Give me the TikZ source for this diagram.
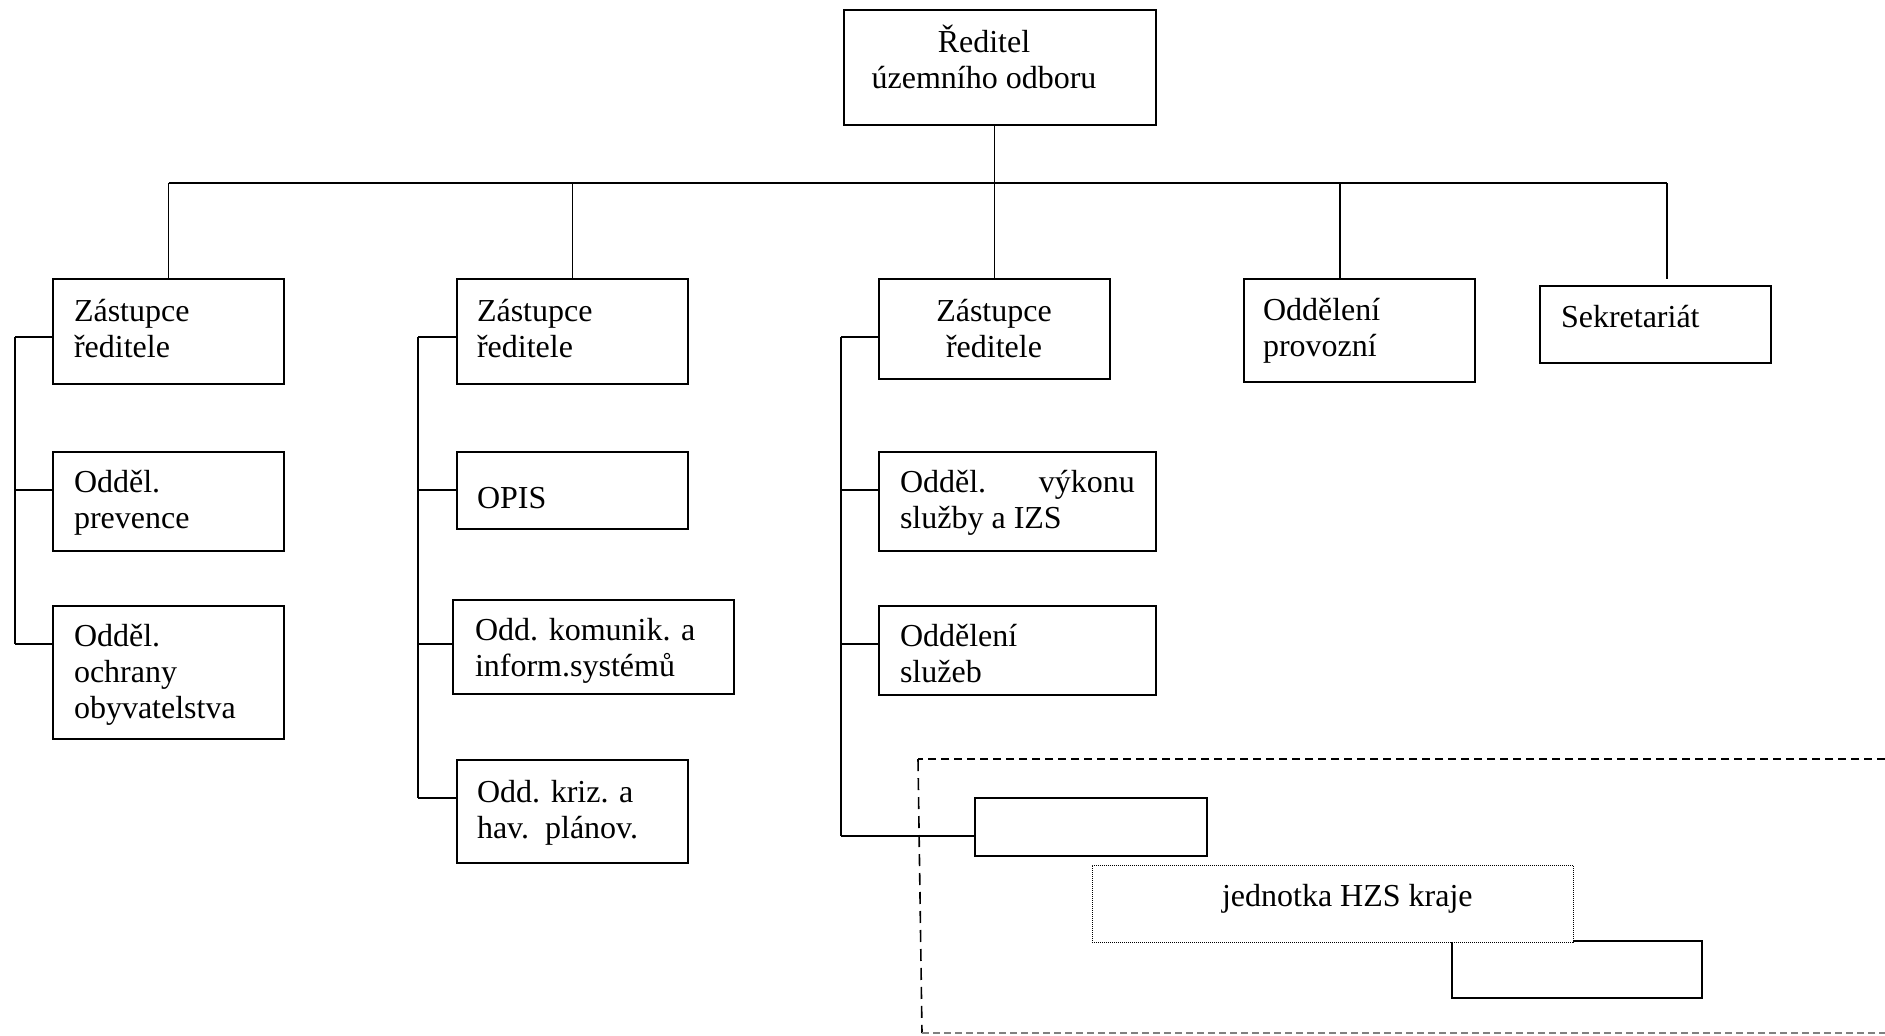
\documentclass[tikz,border=0pt]{standalone}
\usepackage{fontspec}
\setmainfont{Liberation Serif}
\usetikzlibrary{fit}
\newcommand\mystr{\rule[-4pt]{0pt}{18pt}}
\begin{document}
\begin{tikzpicture}[x=0.5pt,y=-0.5pt,
  box/.style={draw, line width=0.65pt, inner sep=0pt, outer sep=0pt},
  txt/.style={anchor=north west, inner sep=0pt, outer sep=0pt, align=left, font=\fontsize{16}{18}\selectfont},
  ctxt/.style={txt, anchor=north, align=center},
  conn/.style={line width=0.65pt}]
\useasboundingbox (0,0) rectangle (1885,1035);

% dashed enclosure
\coordinate (dTR) at (1885,759);
\coordinate (dTL) at (918,759);
\coordinate (dBL) at (922,1033);
\coordinate (dBR) at (1885,1033);
\draw[line width=0.8pt, dash pattern=on 4pt off 2.5pt] (dTR) -- (dTL);
\draw[line width=0.8pt, dash pattern=on 6pt off 3.5pt] (dTL) -- (dBL);
\draw[gray, line width=0.6pt, dash pattern=on 3.5pt off 2pt] (dBL) -- (dBR);

% boxes
\node[box, fit={(844,10) (1156,125)}] (top) {};
\node[box, fit={(53,279) (284,384)}] (z1) {};
\node[box, fit={(53,452) (284,551)}] (prev) {};
\node[box, fit={(53,606) (284,739)}] (ochr) {};
\node[box, fit={(457,279) (688,384)}] (z2) {};
\node[box, fit={(457,452) (688,529)}] (opis) {};
\node[box, fit={(453,600) (734,694)}] (kom) {};
\node[box, fit={(457,760) (688,863)}] (kriz) {};
\node[box, fit={(879,279) (1110,379)}] (z3) {};
\node[box, fit={(879,452) (1156,551)}] (vyk) {};
\node[box, fit={(879,606) (1156,695)}] (sluz) {};
\node[box, fit={(1244,279) (1475,382)}] (prov) {};
\node[box, fit={(1540,286) (1771,363)}] (sekr) {};
\node[box, fit={(975,798) (1207,856)}] (e1) {};
\node[box, line width=0.8pt, fit={(1452,941) (1702,998)}] (e2) {};
\node[draw, fill=white, dash pattern=on 0.5pt off 0.5pt, line width=0.5pt, inner sep=0pt, outer sep=0pt, fit={(1092,865) (1573,942)}] (jed) {};

% texts
\node[ctxt] (ttop) at (984,24) {\mystr Ředitel\\\mystr územního odboru};
\node[txt] (tz1) at (74,293) {\mystr Zástupce\\\mystr ředitele};
\node[txt] (tprev) at (74,464) {\mystr Odděl.\\\mystr prevence};
\node[txt] (tochr) at (74,618) {\mystr Odděl.\\\mystr ochrany\\\mystr obyvatelstva};
\node[txt] (tz2) at (477,293) {\mystr Zástupce\\\mystr ředitele};
\node[txt] (topis) at (477,480) {\mystr OPIS};
\node[txt] (tkom) at (475,612) {\mystr Odd. komunik. a\\\mystr inform.systémů};
\node[txt] (tkriz) at (477,774) {\mystr Odd. kriz. a\\\mystr hav.\ \ plánov.};
\node[ctxt] (tz3) at (994,293) {\mystr Zástupce\\\mystr ředitele};
\node[txt] (tvyk) at (900,464) {\mystr\hbox to 117.5pt{Odděl.\hfill výkonu}\\\mystr služby a IZS};
\node[txt] (tsluz) at (900,618) {\mystr Oddělení\\\mystr služeb};
\node[txt] (tprov) at (1263,292) {\mystr Oddělení\\\mystr provozní};
\node[txt] (tsekr) at (1561,299) {\mystr Sekretariát};
\node[txt] (tjed) at (1222,878) {\mystr jednotka HZS kraje};

% top-level connectors
\coordinate (bus) at (0,183);
\coordinate (busR) at (1667,183);
\coordinate (provin) at (1340,279);
\coordinate (sekrin) at (1667,279);
\draw[conn] (z1.north |- bus) -- (busR);
\draw[conn] (z1.north |- bus) -- (z1.north);
\draw[conn] (z2.north |- bus) -- (z2.north);
\draw[conn] (top.south -| z3.north) -- (z3.north);
\draw[conn] (provin |- bus) -- (provin);
\draw[conn] (busR) -- (sekrin);

% column 1
\coordinate (b11) at (15,337);
\coordinate (b12) at (15,490);
\coordinate (b13) at (15,644);
\draw[conn] (b11) -- (b13);
\draw[conn] (b11) -- (b11 -| z1.west);
\draw[conn] (b12) -- (b12 -| prev.west);
\draw[conn] (b13) -- (b13 -| ochr.west);

% column 2
\coordinate (b21) at (418,337);
\coordinate (b22) at (418,490);
\coordinate (b23) at (418,644);
\coordinate (b24) at (418,798);
\draw[conn] (b21) -- (b24);
\draw[conn] (b21) -- (b21 -| z2.west);
\draw[conn] (b22) -- (b22 -| opis.west);
\draw[conn] (b23) -- (b23 -| kom.west);
\draw[conn] (b24) -- (b24 -| kriz.west);

% column 3
\coordinate (b31) at (841,337);
\coordinate (b32) at (841,490);
\coordinate (b33) at (841,644);
\coordinate (b34) at (841,836);
\draw[conn] (b31) -- (b34);
\draw[conn] (b31) -- (b31 -| z3.west);
\draw[conn] (b32) -- (b32 -| vyk.west);
\draw[conn] (b33) -- (b33 -| sluz.west);
\draw[conn] (b34) -- (b34 -| e1.west);
\end{tikzpicture}
\end{document}
